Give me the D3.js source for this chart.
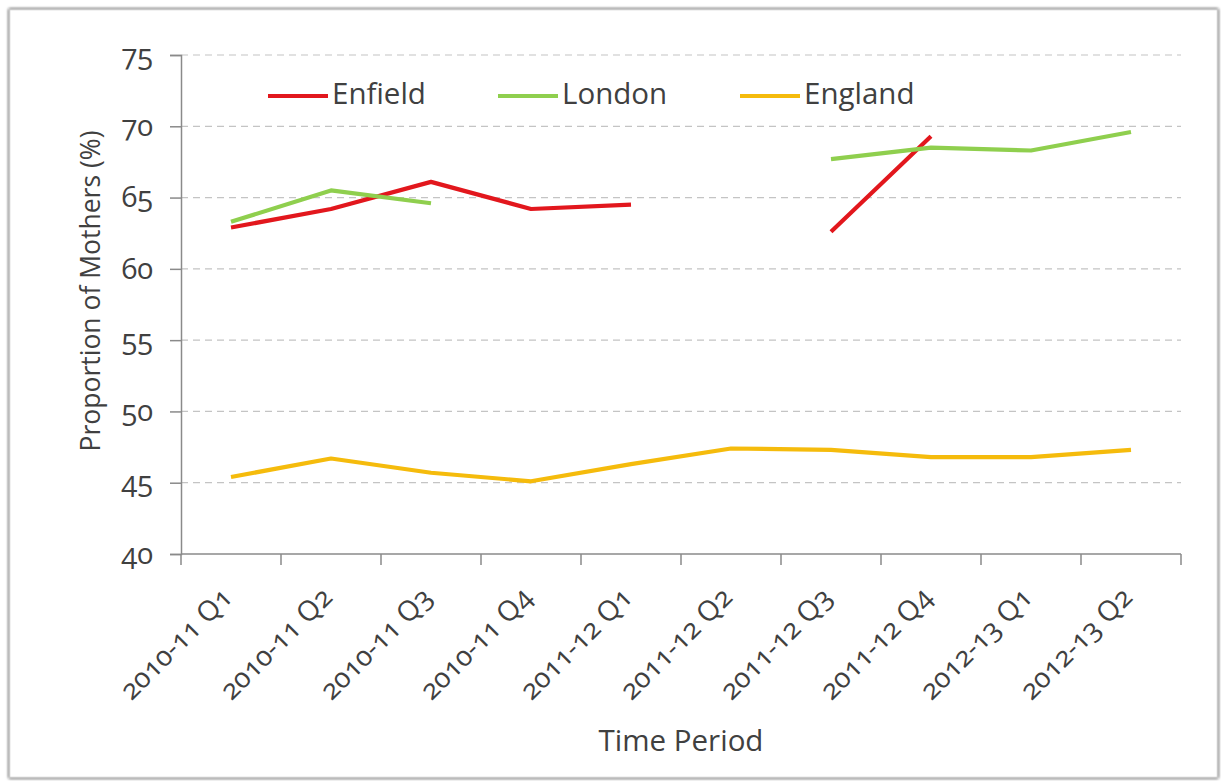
<!DOCTYPE html>
<html>
<head>
<meta charset="utf-8">
<script src="https://cdn.jsdelivr.net/npm/d3@7"></script>
<style>
  html, body { margin: 0; padding: 0; background: #ffffff; }
  svg { display: block; }
  svg text { font-family: "Open Sans", Lato, sans-serif; font-feature-settings: "onum" 1; }
</style>
</head>
<body>
<svg id="chart" width="1221" height="781"></svg>
<script>
// Quarterly proportion of mothers (%)
const periods = ["2010-11 Q1", "2010-11 Q2", "2010-11 Q3", "2010-11 Q4", "2011-12 Q1",
                 "2011-12 Q2", "2011-12 Q3", "2011-12 Q4", "2012-13 Q1", "2012-13 Q2"];
const enfield = [62.9, 64.2, 66.1, 64.2, 64.5, null, 62.6, 69.3, null, null];
const london  = [63.3, 65.5, 64.6, null, null, null, 67.7, 68.5, 68.3, 69.6];
const england = [45.4, 46.7, 45.7, 45.1, 46.3, 47.4, 47.3, 46.8, 46.8, 47.3];
const yTicks = [40, 45, 50, 55, 60, 65, 70, 75];

const seriesNames = ["Enfield", "London", "England"];
const seriesColors = ["#e2171d", "#8fcf4e", "#f5bb0c"];
const seriesValues = [enfield, london, england];

const svg = d3.select("#chart");
const textColor = "#404040";

// soft frame around the chart
const defs = svg.append("defs");
const shadow = defs.append("filter").attr("id", "frameShadow")
  .attr("x", "-5%").attr("y", "-5%").attr("width", "110%").attr("height", "110%");
shadow.append("feGaussianBlur").attr("in", "SourceAlpha").attr("stdDeviation", 1.5);
shadow.append("feOffset").attr("dx", 0).attr("dy", 0).attr("result", "b");
const merge = shadow.append("feMerge");
merge.append("feMergeNode").attr("in", "b");
merge.append("feMergeNode").attr("in", "SourceGraphic");

svg.append("rect")
  .attr("x", 9.5).attr("y", 9.5).attr("width", 1208).attr("height", 768)
  .attr("fill", "#ffffff").attr("stroke", "#c8c8c8").attr("stroke-width", 1.5)
  .attr("filter", "url(#frameShadow)");

const margin = { left: 181, right: 1181, top: 55, bottom: 554 };

const x = d3.scaleBand().domain(periods).range([margin.left, margin.right]).padding(0);
const y = d3.scaleLinear().domain([40, 75]).range([margin.bottom, margin.top]);

// dashed gridlines
svg.append("g")
  .selectAll("line")
  .data(yTicks.filter(d => d !== 40))
  .join("line")
  .attr("x1", margin.left).attr("x2", margin.right)
  .attr("y1", d => y(d)).attr("y2", d => y(d))
  .attr("stroke", "#c4c4c4").attr("stroke-width", 1.2)
  .attr("stroke-dasharray", "7,5");

// y axis
const yAxis = svg.append("g")
  .attr("transform", `translate(${margin.left},0)`)
  .call(d3.axisLeft(y).tickValues(yTicks).tickSize(11).tickPadding(17).tickFormat(d3.format("d")))
  .attr("font-family", null);
yAxis.select(".domain").attr("stroke", "#8a8a8a").attr("stroke-width", 1.5);
yAxis.selectAll(".tick line").attr("stroke", "#8a8a8a").attr("stroke-width", 1.5);
yAxis.selectAll(".tick text")
  .attr("fill", textColor).style("font-size", "29px");

// x axis: ticks on band boundaries
const xAxisG = svg.append("g").attr("transform", `translate(0,${margin.bottom})`);
xAxisG.append("line")
  .attr("x1", margin.left).attr("x2", margin.right)
  .attr("stroke", "#8a8a8a").attr("stroke-width", 1.5);
const bounds = periods.map(p => x(p)).concat([x(periods[periods.length - 1]) + x.bandwidth()]);
xAxisG.selectAll("line.tk")
  .data(bounds)
  .join("line").attr("class", "tk")
  .attr("x1", d => d).attr("x2", d => d)
  .attr("y1", 0).attr("y2", 11)
  .attr("stroke", "#8a8a8a").attr("stroke-width", 1.5);
xAxisG.selectAll("text")
  .data(periods)
  .join("text")
  .attr("transform", d => `translate(${x(d) + x.bandwidth() / 2 + 3},${45}) rotate(-45)`)
  .attr("text-anchor", "end")
  .attr("fill", textColor)
  .style("font-size", "28px")
  .text(d => d);

// axis titles
svg.append("text")
  .attr("transform", `translate(100,${291}) rotate(-90)`)
  .attr("text-anchor", "middle")
  .attr("fill", textColor)
  .style("font-size", "26.5px")
  .text("Proportion of Mothers (%)");

svg.append("text")
  .attr("x", (margin.left + margin.right) / 2)
  .attr("y", 751)
  .attr("text-anchor", "middle")
  .attr("fill", textColor)
  .style("font-size", "29.5px")
  .text("Time Period");

// series lines (gaps where no data)
const line = d3.line()
  .defined(d => d.v !== null)
  .x(d => x(d.p) + x.bandwidth() / 2)
  .y(d => y(d.v));

seriesValues.forEach((vals, i) => {
  const pts = periods.map((p, j) => ({ p, v: vals[j] }));
  svg.append("path")
    .datum(pts)
    .attr("fill", "none")
    .attr("stroke", seriesColors[i])
    .attr("stroke-width", 4.2)
    .attr("stroke-linejoin", "round")
    .attr("d", line);
});

// legend
const legendX = [268, 498, 740];
const legend = svg.append("g");
seriesNames.forEach((name, i) => {
  legend.append("line")
    .attr("x1", legendX[i]).attr("x2", legendX[i] + 60)
    .attr("y1", 96).attr("y2", 96)
    .attr("stroke", seriesColors[i]).attr("stroke-width", 4.2);
  legend.append("text")
    .attr("x", legendX[i] + 64).attr("y", 104)
    .attr("fill", textColor)
    .style("font-size", "29.5px")
    .text(name);
});
</script>
</body>
</html>
